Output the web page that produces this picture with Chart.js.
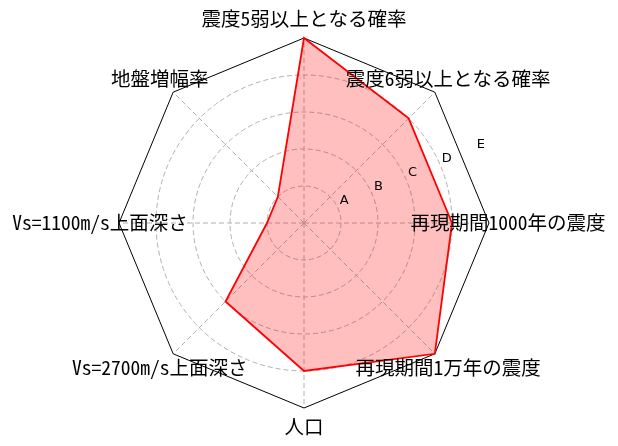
<!DOCTYPE html>
<html>
<head>
<meta charset="utf-8">
<script src="https://cdn.jsdelivr.net/npm/chart.js@4/dist/chart.umd.min.js"></script>
<style>
    body { margin: 0; background: #ffffff; }
    canvas { display: block; }
</style>
</head>
<body>
<canvas id="radarChart" width="618" height="446"></canvas>
<script>
// Данные графика
const categories = [
    '震度5弱以上となる確率',
    '震度6弱以上となる確率',
    '再現期間1000年の震度',
    '再現期間1万年の震度',
    '人口',
    'Vs=2700m/s上面深さ',
    'Vs=1100m/s上面深さ',
    '地盤増幅率'
];
const values = [5, 4, 4, 5, 4, 3, 1, 1];
const tickLabels = ['A', 'B', 'C', 'D', 'E'];

const labelFont = "19.5px 'Noto Sans Mono CJK JP', 'DejaVu Sans Mono', 'Noto Sans CJK JP', sans-serif";
const tickFont = "13px 'DejaVu Sans', sans-serif";

// Внешняя рамка-восьмиугольник и подписи (рисуем сами)
const radarDecor = {
    id: 'radarDecor',
    beforeDatasetsDraw(chart) {
        const scale = chart.scales.r;
        const ctx = chart.ctx;
        ctx.save();
        ctx.strokeStyle = '#000000';
        ctx.lineWidth = 1;
        ctx.beginPath();
        for (let i = 0; i < categories.length; i++) {
            const p = scale.getPointPosition(i, scale.drawingArea);
            if (i === 0) {
                ctx.moveTo(p.x, p.y);
            } else {
                ctx.lineTo(p.x, p.y);
            }
        }
        ctx.closePath();
        ctx.stroke();
        ctx.restore();
    },
    afterDraw(chart) {
        const scale = chart.scales.r;
        const ctx = chart.ctx;
        ctx.save();
        // подписи осей по центру
        ctx.font = labelFont;
        ctx.fillStyle = '#000000';
        ctx.textAlign = 'center';
        ctx.textBaseline = 'middle';
        categories.forEach((label, i) => {
            const p = scale.getPointPosition(i, scale.drawingArea + 19);
            ctx.fillText(label, p.x, p.y);
        });
        // подписи уровней под углом 22.5 градуса
        ctx.font = tickFont;
        const angle = -Math.PI / 8;
        tickLabels.forEach((label, i) => {
            const dist = scale.getDistanceFromCenterForValue(i + 1);
            const x = scale.xCenter + Math.cos(angle) * dist;
            const y = scale.yCenter + Math.sin(angle) * dist;
            ctx.fillText(label, x + 6, y - 8);
        });
        ctx.restore();
    }
};

new Chart(document.getElementById('radarChart'), {
    type: 'radar',
    data: {
        labels: categories,
        datasets: [{
            data: values,
            borderColor: '#ff0000',
            backgroundColor: 'rgba(255, 0, 0, 0.25)',
            borderWidth: 1.8,
            pointRadius: 0,
            fill: true,
            tension: 0
        }]
    },
    options: {
        responsive: false,
        animation: false,
        layout: {
            padding: { left: 114, right: 124, top: 38, bottom: 38 }
        },
        plugins: {
            legend: { display: false },
            tooltip: { enabled: false }
        },
        scales: {
            r: {
                min: 0,
                max: 5,
                ticks: { stepSize: 1, display: false },
                pointLabels: { display: false },
                grid: {
                    circular: true,
                    lineWidth: 1,
                    color: function(context) {
                        // последний круг не рисуем, там рамка
                        return context.index === 5 ? 'rgba(0,0,0,0)' : '#b0b0b0';
                    }
                },
                border: { dash: [5, 3] },
                angleLines: {
                    color: '#b0b0b0',
                    lineWidth: 1,
                    borderDash: [5, 3]
                }
            }
        }
    },
    plugins: [radarDecor]
});
</script>
</body>
</html>
